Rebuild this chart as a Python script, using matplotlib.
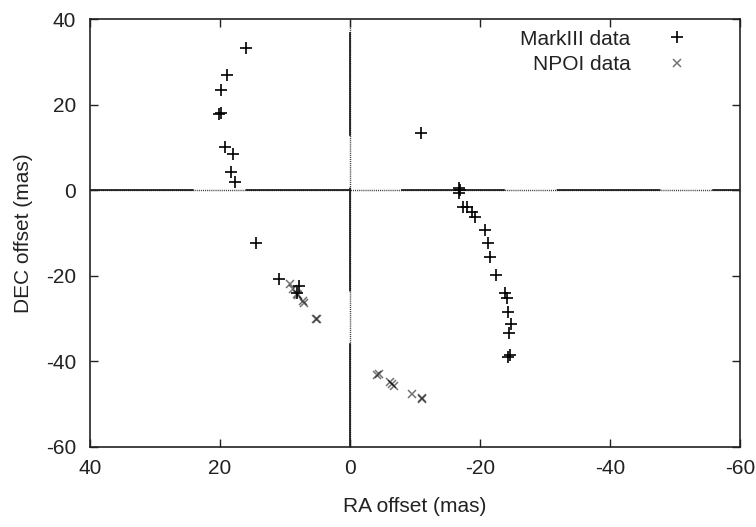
import matplotlib
matplotlib.use('Agg')
import matplotlib.pyplot as plt

plt.rcParams['font.family'] = ['Liberation Sans', 'DejaVu Sans']
plt.rcParams['lines.scale_dashes'] = False
plt.rcParams['axes.unicode_minus'] = False

# MarkIII astrometry (+)
mk_ra = [16.0, 18.9, 19.8, 20.2, 19.8, 19.3, 18.0, 18.3, 17.7,
         14.4, 11.0, 7.8, 8.2,
         -10.9, -16.8, -16.9, -16.8, -17.4, -18.0, -18.7, -19.3,
         -20.7, -21.2, -21.5, -22.5, -23.9, -24.2, -24.3, -24.7,
         -24.4, -24.3, -24.6]
mk_dec = [33.2, 26.9, 23.4, 17.7, 18.0, 10.2, 8.5, 4.3, 1.8,
          -12.4, -20.8, -22.3, -24.0,
          13.4, 0.6, 0.0, -0.7, -3.9, -4.0, -5.2, -6.2,
          -9.3, -12.4, -15.5, -19.7, -24.1, -25.3, -28.5, -31.2,
          -33.4, -39.0, -38.6]

# NPOI astrometry (x)
np_ra = [9.3, 8.7, 8.2, 8.0, 7.3, 7.1, 5.2, 5.1,
         -4.2, -4.4, -6.2, -6.5, -6.8, -9.6, -11.0, -11.1]
np_dec = [-21.8, -23.1, -24.3, -24.6, -26.0, -26.3, -30.0, -30.2,
          -43.2, -43.0, -44.8, -45.3, -45.7, -47.6, -48.8, -48.6]

xticks = [40, 20, 0, -20, -40, -60]
yticks = [-60, -40, -20, 0, 20, 40]

fs = 15
fig = plt.figure(figsize=(7.56, 5.27), dpi=100)
ax = fig.add_axes([90 / 756, 80 / 527, 650 / 756, 428 / 527])

# zero axes: dotted base with long solid dashes on top (gnuplot style)
for f in (ax.axhline, ax.axvline):
    f(0, color='#333333', lw=1.0, dashes=(0.75, 0.75), zorder=1)
    f(0, color='#111111', lw=1.2, dashes=(74.7, 37.3), zorder=1)

ax.plot(mk_ra, mk_dec, ls='none', marker='+', ms=9, mew=1.2,
        color='black', label='MarkIII data', zorder=3)
ax.plot(np_ra, np_dec, ls='none', marker='x', ms=6, mew=1.1,
        color='black', alpha=0.55, label='NPOI data', zorder=3)

ax.set_xlim(40, -60)
ax.set_ylim(-60, 40)
ax.set_xticks(xticks)
ax.set_yticks(yticks)
ax.tick_params(direction='in', length=6, width=1, top=True, right=True,
               labelsize=fs, colors='#222222')
ax.tick_params(axis='x', pad=9)
ax.tick_params(axis='y', pad=10)
for s in ax.spines.values():
    s.set_linewidth(1.2)
    s.set_color('#222222')

ax.set_xlabel('RA offset (mas)', fontsize=fs, color='#222222', labelpad=13)
ax.set_ylabel('DEC offset (mas)', fontsize=fs, color='#222222', labelpad=9)

leg = ax.legend(loc='upper right', bbox_to_anchor=(0.934, 0.985),
                frameon=False, markerfirst=False, fontsize=fs,
                handlelength=1.5, handletextpad=1.5, labelspacing=0.3,
                borderaxespad=0, borderpad=0.2)
for t in leg.get_texts():
    t.set_color('#222222')

fig.savefig('out.png', dpi=100)
